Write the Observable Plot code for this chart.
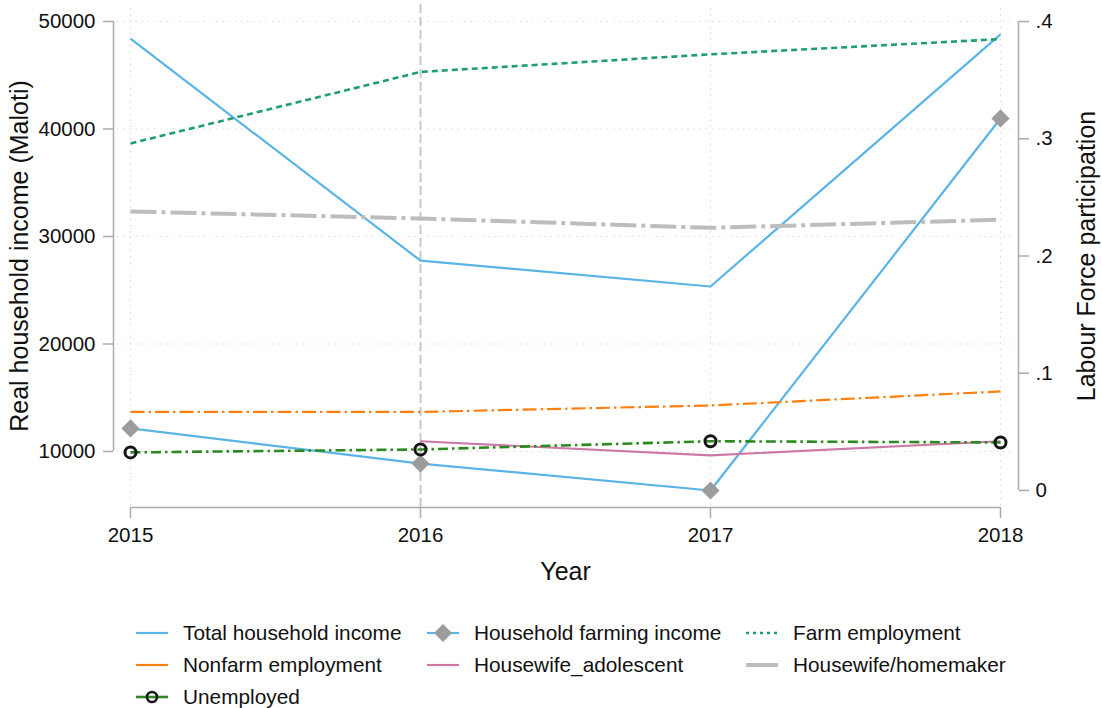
<!DOCTYPE html>
<html><head><meta charset="utf-8">
<script src="https://cdn.jsdelivr.net/npm/d3@7"></script>
<script src="https://cdn.jsdelivr.net/npm/@observablehq/plot@0.6"></script>
<style>
body{margin:0;background:#fff;font-family:"Liberation Sans",Arial,Helvetica,sans-serif;}
#legend{position:relative;height:108px;width:1102px;}
.item{position:absolute;display:flex;align-items:center;font-size:20.8px;color:#111;height:32px;white-space:nowrap;}
.item svg{margin-right:15px;}
</style></head><body><div id="chart"></div><div id="legend"></div>
<script>
// ---- data ----
const years = [2015, 2016, 2017, 2018];
const totalIncome = [48400, 27750, 25350, 48800];
const farmingIncome = [12150, 8880, 6372, 40980];
const farmEmployment = [0.296, 0.357, 0.372, 0.385];
const nonfarmEmployment = [0.067, 0.067, 0.0725, 0.0845];
const housewifeAdolescent = [null, 0.042, 0.030, 0.042];
const housewifeHomemaker = [0.238, 0.232, 0.224, 0.231];
const unemployed = [0.0325, 0.035, 0.042, 0.041];
const leftTicks = [10000, 20000, 30000, 40000, 50000];
const rightTicks = [0, 0.1, 0.2, 0.3, 0.4];
const rightTickLabels = ["0", ".1", ".2", ".3", ".4"];
const xTitle = "Year";
const yLeftTitle = "Real household income (Maloti)";
const yRightTitle = "Labour Force participation";

// ---- scales ----
const yMin = d3.min([...totalIncome, ...farmingIncome]);
const yMax = d3.max(leftTicks);
const rMin = d3.min(rightTicks), rMax = d3.max(rightTicks);
const conv = r => yMin + (r - rMin) / (rMax - rMin) * (yMax - yMin);

const series = [
  {name: "Total household income", values: totalIncome, axis: "left", stroke: "#5ab4e6", width: 2.2, dash: null},
  {name: "Household farming income", values: farmingIncome, axis: "left", stroke: "#5ab4e6", width: 2.2, dash: null, symbol: "diamond"},
  {name: "Farm employment", values: farmEmployment, axis: "right", stroke: "#1f9e74", width: 2.6, dash: "6,4"},
  {name: "Nonfarm employment", values: nonfarmEmployment, axis: "right", stroke: "#ff7f0e", width: 2.2, dash: "14,4,2.5,4"},
  {name: "Housewife_adolescent", values: housewifeAdolescent, axis: "right", stroke: "#cc79a7", width: 2.2, dash: null},
  {name: "Housewife/homemaker", values: housewifeHomemaker, axis: "right", stroke: "#bdbdbd", width: 4, dash: "26,5,4,5"},
  {name: "Unemployed", values: unemployed, axis: "right", stroke: "#2b8a1f", width: 2.6, dash: "10,4,2.5,4", symbol: "circle"}
];
series.forEach(s => {
  s.rows = years.map((yr, i) => ({year: yr, v: s.values[i] == null ? null : (s.axis === "left" ? s.values[i] : conv(s.values[i]))}))
    .filter(d => d.v != null);
});

const grid = "#d2d2d2", axisCol = "#ababab", textCol = "#111";
const marks = [
  Plot.ruleY(leftTicks, {stroke: grid, strokeWidth: 1.2, strokeDasharray: "1.2,5", insetLeft: 4, insetRight: 4}),
  Plot.ruleX(years.filter(y => y !== 2016), {stroke: grid, strokeWidth: 1.2, strokeDasharray: "1.2,5", insetTop: -13}),
  Plot.ruleX([2016], {stroke: "#c8c8c8", strokeWidth: 2, strokeDasharray: "9,4", insetTop: -17}),
  // axis lines
  Plot.ruleX([years[0]], {y1: d3.min(leftTicks), y2: yMax, dx: -17, stroke: axisCol, strokeWidth: 1.5}),
  Plot.ruleX([years[years.length - 1]], {y1: conv(rMin), y2: conv(rMax), dx: 18, stroke: axisCol, strokeWidth: 1.5}),
  Plot.ruleY([yMin], {x1: years[0], x2: years[years.length - 1], dy: 17, stroke: axisCol, strokeWidth: 1.5}),
  Plot.axisX(years, {tickFormat: d3.format("d"), tickSize: 11, tickPadding: 9, label: null, stroke: axisCol, fill: textCol, strokeWidth: 1.5}),
  Plot.axisY(leftTicks, {anchor: "left", tickFormat: d3.format("d"), tickSize: 10, tickPadding: 8, label: null, stroke: axisCol, fill: textCol, strokeWidth: 1.5}),
  Plot.axisY(rightTicks.map(conv), {anchor: "right", tickSize: 10, tickPadding: 7, label: null, stroke: axisCol, fill: textCol, strokeWidth: 1.5,
    tickFormat: d => rightTickLabels[rightTicks.findIndex(r => Math.abs(conv(r) - d) < 1e-6)]}),
  Plot.text([yLeftTitle], {x: years[0], y: (yMin + yMax) / 2, dx: -111, rotate: -90, text: d => d, fontSize: 25, fill: textCol}),
  Plot.text([yRightTitle], {x: years[years.length - 1], y: (yMin + yMax) / 2, dx: 86, rotate: -90, text: d => d, fontSize: 25, fill: textCol}),
  Plot.text([xTitle], {x: (years[0] + years[years.length - 1]) / 2, y: yMin, dy: 81, text: d => d, fontSize: 25, fill: textCol})
];
series.forEach(s => {
  marks.push(Plot.line(s.rows, {x: "year", y: "v", stroke: s.stroke, strokeWidth: s.width, strokeDasharray: s.dash, strokeLinecap: "butt"}));
});
series.forEach(s => {
  if (s.symbol === "diamond") marks.push(Plot.dot(s.rows, {x: "year", y: "v", symbol: "diamond2", r: 8.2, fill: "#9c9c9c", stroke: null}));
  if (s.symbol === "circle") marks.push(Plot.dot(s.rows, {x: "year", y: "v", r: 5.5, fill: "none", stroke: "#161616", strokeWidth: 3}));
});

const chart = Plot.plot({
  width: 1102, height: 600,
  marginLeft: 113, marginRight: 84, marginTop: 21, marginBottom: 93,
  style: {fontFamily: '"Liberation Sans", Arial, Helvetica, sans-serif', fontSize: "20.5px", background: "#fff", color: textCol},
  x: {type: "linear", domain: [years[0], years[years.length - 1]], range: [130, 1000]},
  y: {type: "linear", domain: [yMin, yMax], range: [490, 21]},
  marks
});
document.getElementById("chart").appendChild(chart);

// ---- legend ----
const legend = document.getElementById("legend");
const colX = [183, 474, 793], rowY = [17, 49, 81];
series.forEach((s, i) => {
  const c = i % 3, r = Math.floor(i / 3);
  const div = document.createElement("div");
  div.className = "item";
  div.style.left = (colX[c] - 47) + "px";
  div.style.top = rowY[r] + "px";
  let sym = "";
  if (s.symbol === "diamond") sym = '<path d="M16,7 L25,16 L16,25 L7,16 Z" fill="#9c9c9c"/>';
  if (s.symbol === "circle") sym = '<circle cx="16" cy="16" r="5" fill="none" stroke="#161616" stroke-width="2.6"/>';
  const dash = s.name === "Farm employment" ? ' stroke-dasharray="3,4"' : "";
  div.innerHTML = `<svg width="32" height="32"><line x1="0" x2="32" y1="16" y2="16" stroke="${s.stroke}" stroke-width="${s.width}"${dash}/>${sym}</svg><span>${s.name}</span>`;
  legend.appendChild(div);
});
</script></body></html>
